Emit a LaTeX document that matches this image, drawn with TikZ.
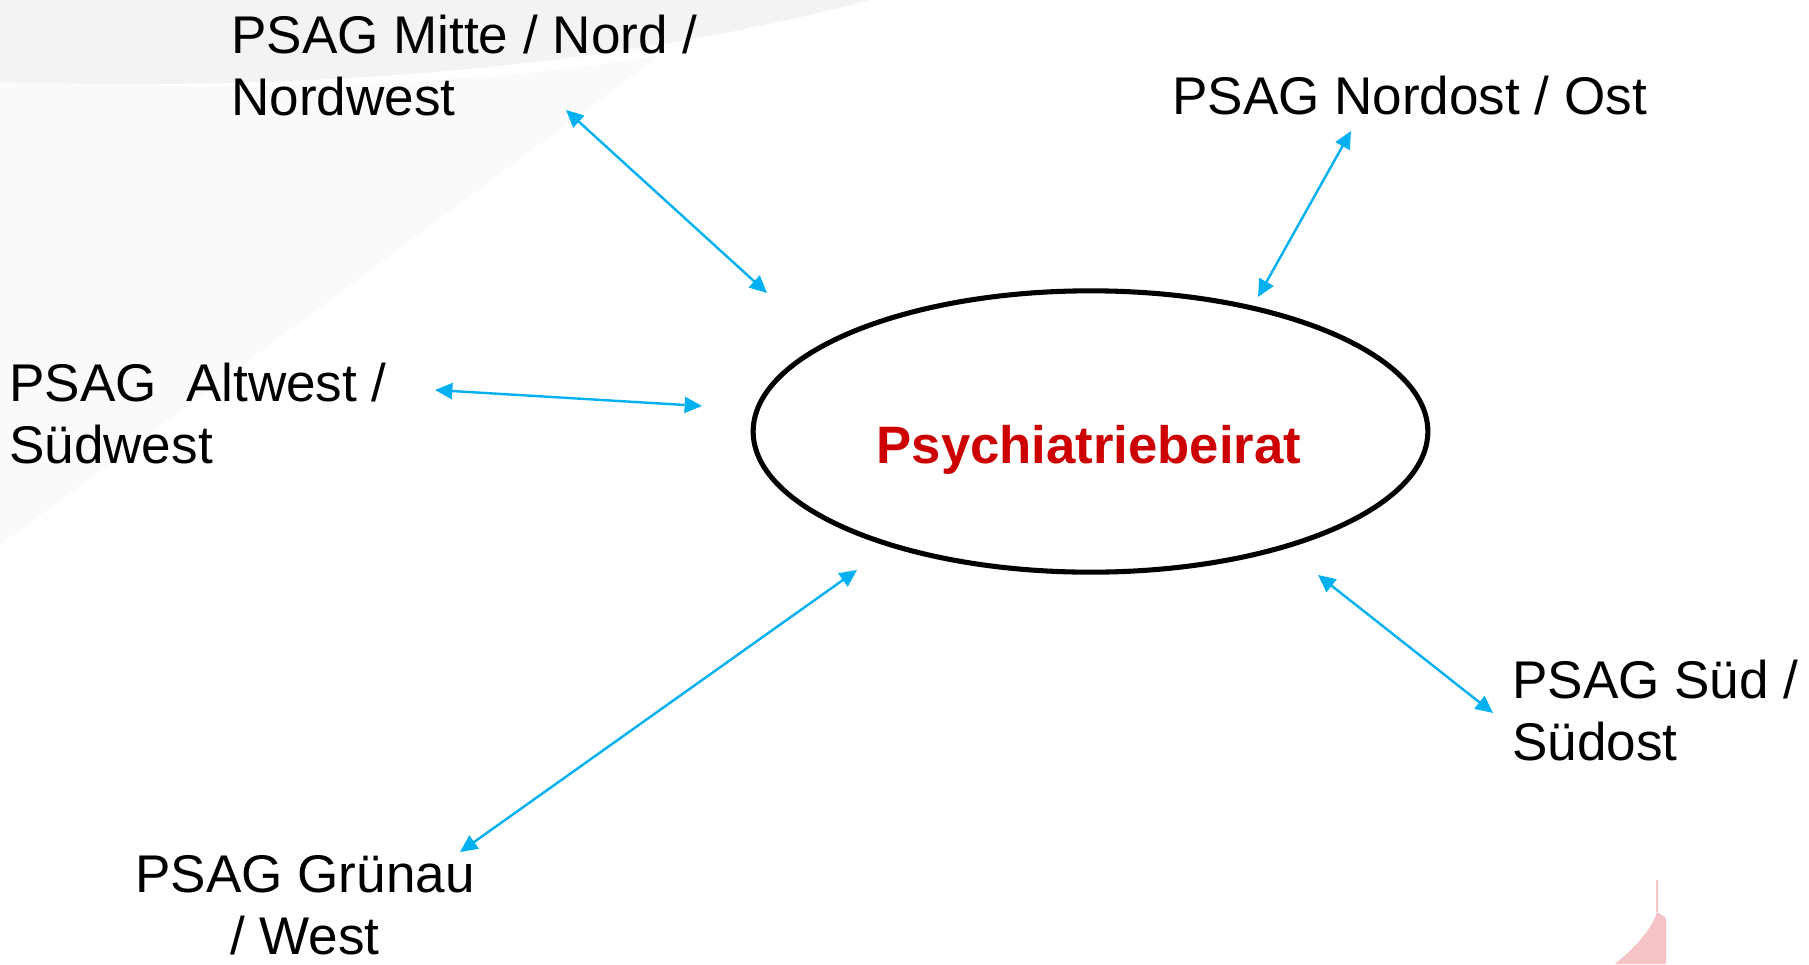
\documentclass[tikz,border=0pt]{standalone}
\usepackage{fontspec}
\setmainfont{Liberation Sans}
\usetikzlibrary{arrows.meta,shapes.geometric}
\definecolor{pfeilblau}{RGB}{0,176,240}
\definecolor{beiratrot}{RGB}{204,0,0}
\definecolor{hgrau}{RGB}{243,243,243}
\definecolor{hrosa}{RGB}{246,196,198}

\begin{document}
\begin{tikzpicture}[x=0.75pt,y=0.75pt,yscale=-1,xscale=1,
  psag/.style={inner sep=0pt,font=\fontsize{39.8}{46.5}\selectfont},
  hub/.style={draw,ellipse,line width=3.8pt,minimum width=506pt,minimum height=211pt,inner sep=0pt},
  titel/.style={inner sep=0pt,text=beiratrot,font=\fontsize{39.5}{46}\selectfont\bfseries},
  verbindung/.style={pfeilblau,line width=1.8pt,{Triangle[length=13pt,width=12pt]}-{Triangle[length=13pt,width=12pt]}}]
            \useasboundingbox (0,0) rectangle (1809,964);
            
            %Shape: background band
            \fill [hgrau] (0,0) -- (870,0) .. controls (700,45) and (420,95) .. (0,82) -- cycle ;
            \fill [hgrau,opacity=0.45] (0,82) .. controls (250,92) and (500,85) .. (660,55) -- (0,545) -- cycle ;
            %Shape: corner logo
            \fill [hrosa] (1615,964) .. controls (1638,945) and (1652,928) .. (1657,912) -- (1666,918) -- (1666,964) -- cycle ;
            \draw [hrosa,line width=1pt] (1657,912) -- (1657,880) ;
            
            %Shape: Ellipse
            \node [hub] (beirat) at (1090.5,431.5) {} ;
            % Text Node
            \node [titel,anchor=base] (titel) at (1089,463) {Psychiatriebeirat} ;
            
            % Text Node
            \node [psag,align=left,anchor=base west] (mitte) at (231,115) {PSAG Mitte / Nord /\\Nordwest} ;
            % Text Node
            \node [psag,anchor=base west] (nordost) at (1172,114) {PSAG Nordost / Ost} ;
            % Text Node
            \node [psag,align=left,anchor=base west] (altwest) at (9,463) {PSAG\ \ Altwest /\\Südwest} ;
            % Text Node
            \node [psag,align=left,anchor=base west] (sued) at (1512,760) {PSAG Süd /\\Südost} ;
            % Text Node
            \node [psag,align=center,anchor=base] (gruenau) at (305,954) {PSAG Grünau\\/ West} ;
            
            % arrow ends
            \coordinate (m1) at (566,110) ; \coordinate (m2) at (767,293) ;
            \coordinate (n1) at (1351,131) ; \coordinate (n2) at (1258,297) ;
            \coordinate (a1) at (435,390) ; \coordinate (a2) at (702,406) ;
            \coordinate (g1) at (460,852) ; \coordinate (g2) at (857,570) ;
            \coordinate (s1) at (1318,575) ; \coordinate (s2) at (1493,713) ;
            
            \draw [verbindung] (m1) -- (m2) ;
            \draw [verbindung] (n1) -- (n2) ;
            \draw [verbindung] (a1) -- (a2) ;
            \draw [verbindung] (g1) -- (g2) ;
            \draw [verbindung] (s1) -- (s2) ;
            
\end{tikzpicture}
\end{document}
